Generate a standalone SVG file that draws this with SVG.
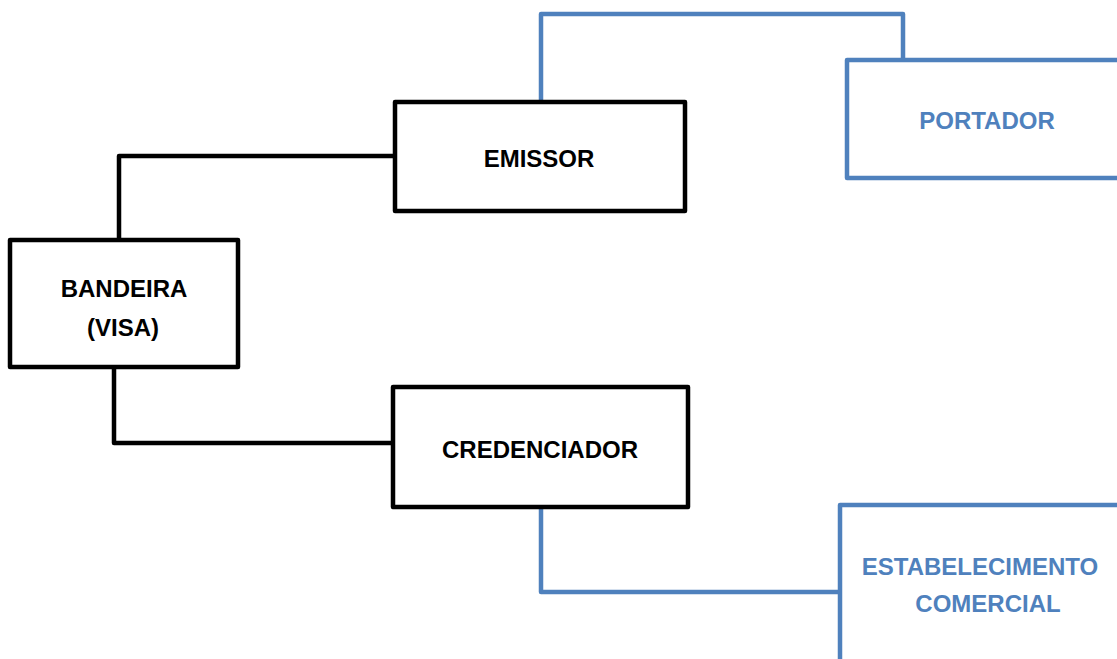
<svg xmlns="http://www.w3.org/2000/svg" width="1117" height="659" viewBox="0 0 1117 659">
<style>
.bk{fill:#fff;stroke:#000;stroke-width:4.5;stroke-linejoin:round}
.bl{fill:#fff;stroke:#4F81BD;stroke-width:4.5;stroke-linejoin:round}
.ck{fill:none;stroke:#000;stroke-width:4.5;stroke-linejoin:round}
.cb{fill:none;stroke:#4F81BD;stroke-width:4.5;stroke-linejoin:round}
.t{font-family:"Liberation Sans",Arial,sans-serif;font-weight:bold;font-size:24px;text-anchor:middle}
.tk{fill:#000}
.tb{fill:#4F81BD}
</style>
<rect width="1117" height="659" fill="#fff"/>
<g id="connectors">
<path class="ck" d="M395,156 H119 V240"/>
<path class="ck" d="M114,367 V443 H393"/>
<path class="cb" d="M541,102 V14 H903 V60"/>
<path class="cb" d="M541,507 V592 H840"/>
</g>
<g id="emissor">
<rect class="bk" x="395" y="102" width="290" height="109"/>
<text class="t tk" x="539" y="167">EMISSOR</text>
</g>
<g id="bandeira">
<rect class="bk" x="10" y="240" width="228" height="127"/>
<text class="t tk" x="124" y="297">BANDEIRA</text>
<text class="t tk" x="123" y="336">(VISA)</text>
</g>
<g id="credenciador">
<rect class="bk" x="393" y="387" width="295" height="120"/>
<text class="t tk" x="540" y="458">CREDENCIADOR</text>
</g>
<g id="portador">
<rect class="bl" x="847" y="60" width="290" height="118"/>
<text class="t tb" x="987" y="129">PORTADOR</text>
</g>
<g id="estabelecimento">
<rect class="bl" x="840" y="505" width="300" height="170"/>
<text class="t tb" x="980" y="575">ESTABELECIMENTO</text>
<text class="t tb" x="988" y="612">COMERCIAL</text>
</g>
</svg>
